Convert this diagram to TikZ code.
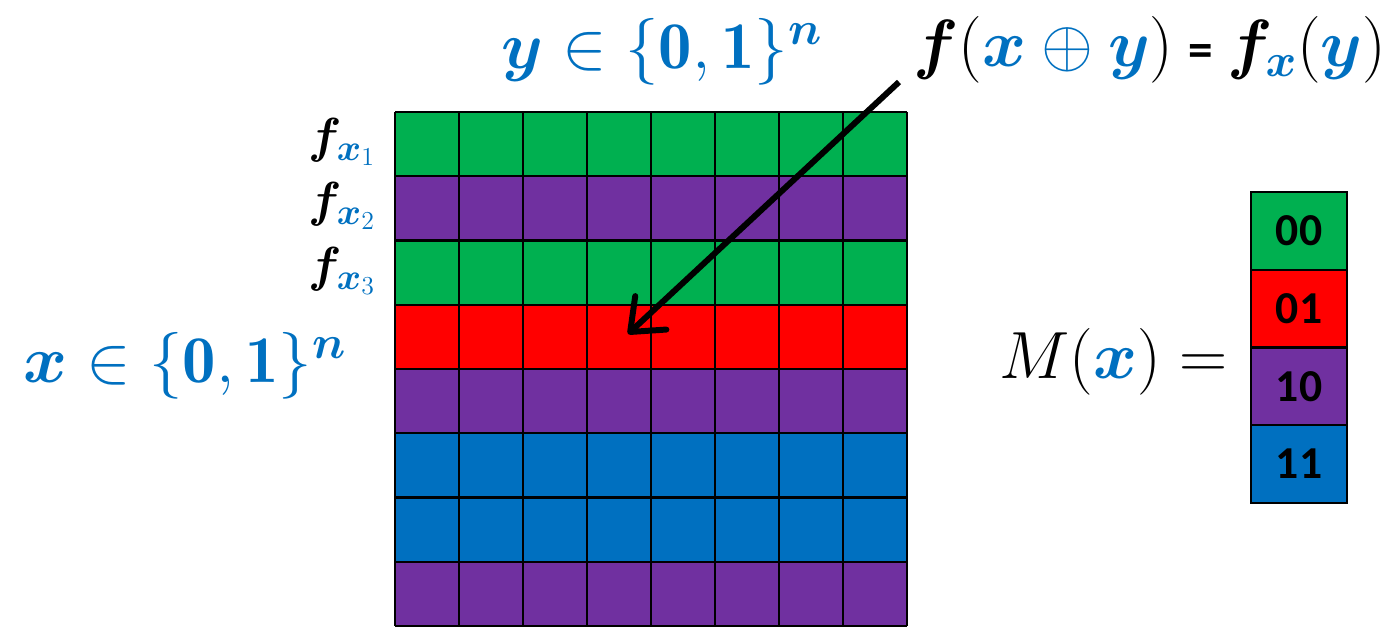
\documentclass[tikz,border=0pt]{standalone}
\usepackage{fix-cm}
\usepackage{amsmath,bm}
\usepackage{fontspec}
\newfontfamily\cellfont{Carlito}
\usetikzlibrary{arrows.meta}

\definecolor{offgreen}{HTML}{00B050}
\definecolor{offpurple}{HTML}{7030A0}
\definecolor{offred}{HTML}{FF0000}
\definecolor{offblue}{HTML}{0070C0}

% chỉ số dưới lớn của f_x
\newcommand{\bigsub}[1]{\text{\fontsize{21}{24}\selectfont$\color{offblue}\bm{x}_{#1}$}}

\tikzset{
  bigmath/.style={inner sep=0pt, font=\fontsize{38}{44}\selectfont},
  rowmath/.style={inner sep=0pt, font=\fontsize{28}{32}\selectfont},
  bitcell/.style={draw=black, line width=1.2pt, minimum width=1.92cm,
    minimum height=1.555cm, inner sep=0pt, outer sep=0pt,
    font=\cellfont\bfseries\fontsize{26}{30}\selectfont}
}

\begin{document}
\begin{tikzpicture}[x=0.02cm, y=-0.02cm, >={Straight Barb[length=16pt, width=26pt, round]}]
    % Khung hình
    \useasboundingbox (0,0) rectangle (1396,628);

    % 1. Các hàng màu của bảng
    \foreach \c [count=\r from 0] in {offgreen,offpurple,offgreen,offred,offpurple,offblue,offblue,offpurple}
        \fill[\c] (395,112+64.25*\r) rectangle (907,176.25+64.25*\r);

    % 2. Lưới ô vuông
    \foreach \i in {0,...,8}
        \draw[line width=1.2pt] (395+64*\i,112) -- (395+64*\i,626);
    \foreach \j in {0,...,8}
        \draw[line width=1.2pt] (395,112+64.25*\j) -- (907,112+64.25*\j);

    % 3. Nhãn cột và hàng
    \node[bigmath] (ylbl) at (662,52)
        {$\color{offblue}\bm{y}\in\{\mathbf{0},\mathbf{1}\}^{\bm{n}}$};
    \node[bigmath] (xlbl) at (185,366)
        {$\color{offblue}\bm{x}\in\{\mathbf{0},\mathbf{1}\}^{\bm{n}}$};

    % 4. Tên các hàm f_x
    \node[rowmath, anchor=east] (fx1) at (376,142) {$\bm{f}_{\bigsub{1}}$};
    \node[rowmath, anchor=east] (fx2) at (376,206) {$\bm{f}_{\bigsub{2}}$};
    \node[rowmath, anchor=east] (fx3) at (376,271) {$\bm{f}_{\bigsub{3}}$};

    % 5. Công thức và mũi tên
    \node[bigmath] (rule) at (1150,50)
        {$\bm{f}(\color{offblue}\bm{x}\oplus\bm{y}\color{black})
          \mathbin{\text{\cellfont\bfseries\fontsize{28}{32}\selectfont =}}
          \bm{f}_{\color{offblue}\bm{x}}(\color{offblue}\bm{y}\color{black})$};
    \coordinate (tail) at (899,82);
    \coordinate (tip) at (628,334);
    \draw[->, line width=3.4pt] (tail) -- (tip);

    % 6. Vectơ M(x)
    \node[bigmath, anchor=east] (mlbl) at (1228,362)
        {$M(\color{offblue}\bm{x}\color{black})=$};
    \node[bitcell, fill=offgreen] (b00) at (1299,230.9) {00};
    \node[bitcell, fill=offred] (b01) at (1299,308.6) {01};
    \node[bitcell, fill=offpurple] (b10) at (1299,386.4) {10};
    \node[bitcell, fill=offblue] (b11) at (1299,464.1) {11};

\end{tikzpicture}
\end{document}
